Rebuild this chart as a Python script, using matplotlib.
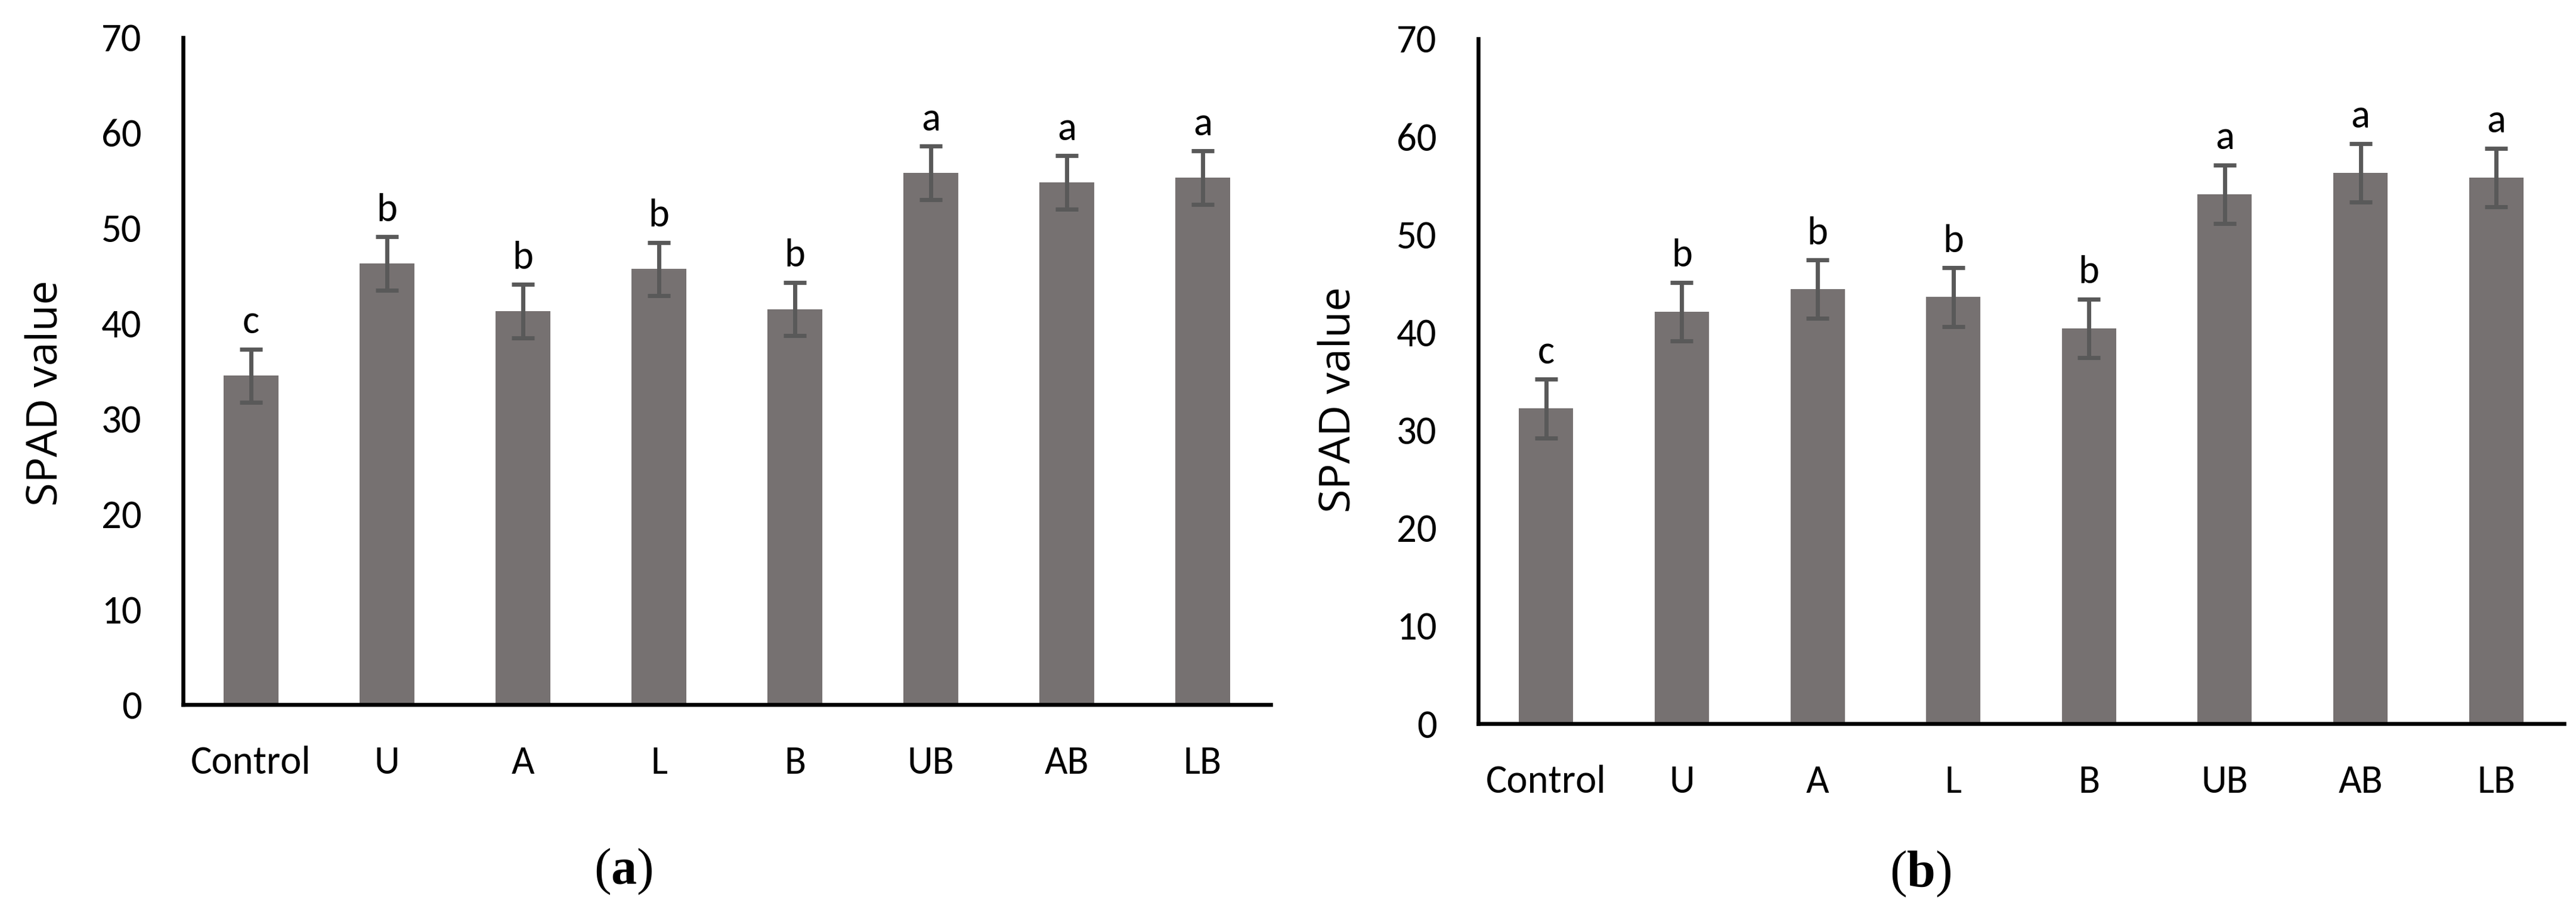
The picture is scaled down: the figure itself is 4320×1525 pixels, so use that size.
import matplotlib
matplotlib.use("Agg")
import matplotlib.pyplot as plt
import numpy as np

categories = ["Control", "U", "A", "L", "B", "UB", "AB", "LB"]
values_a = [34.5, 46.3, 41.3, 45.7, 41.5, 55.8, 54.8, 55.3]
errors_a = [2.8, 2.8, 2.8, 2.8, 2.8, 2.8, 2.8, 2.8]
letters_a = ["c", "b", "b", "b", "b", "a", "a", "a"]
values_b = [32.2, 42.1, 44.4, 43.6, 40.4, 54.1, 56.3, 55.8]
errors_b = [3.0, 3.0, 3.0, 3.0, 3.0, 3.0, 3.0, 3.0]
letters_b = ["c", "b", "b", "b", "b", "a", "a", "a"]
yticks = [0, 10, 20, 30, 40, 50, 60, 70]
panel_labels = ["a", "b"]

plt.rcParams['mathtext.fontset'] = 'custom'
plt.rcParams['mathtext.rm'] = 'Liberation Serif'
plt.rcParams['mathtext.bf'] = 'Liberation Serif:bold'

TICKFONT = ['Carlito', 'Lato', 'DejaVu Sans']
LABELFONT = ['Open Sans', 'DejaVu Sans']

W, H = 4320, 1525
fig = plt.figure(figsize=(W / 100, H / 100), dpi=100)

# axes rects in pixels: left, right, y0 (value 0), y70 (value 70)
rects = [(307, 2131, 1182, 63), (2479, 4300, 1214, 65)]
ylabel_pos = [(78, 660), (2246, 671)]
panel_pos = [(1045, 1462), (3221, 1466)]
datasets = [(values_a, errors_a, letters_a), (values_b, errors_b, letters_b)]

for k, ((l, r, y0, y70), (vals, errs, lets)) in enumerate(zip(rects, datasets)):
    ax = fig.add_axes([l / W, 1 - y0 / H, (r - l) / W, (y0 - y70) / H])
    x = np.arange(len(categories))
    ax.bar(x, vals, width=0.4, color='#767171', zorder=1)
    ax.errorbar(x, vals, yerr=errs, fmt='none', ecolor='#595959',
                elinewidth=5, capsize=13.7, capthick=5, zorder=2)
    for xi, v, e, t in zip(x, vals, errs, lets):
        ax.annotate(t, (xi, v + e), xytext=(0, 19), textcoords='offset points',
                    ha='center', va='baseline', fontsize=48, family=TICKFONT,
                    color='black')
    ax.set_xlim(-0.5, len(categories) - 0.5)
    ax.set_ylim(0, 70)
    ax.set_yticks(yticks)
    ax.set_xticks(x)
    ax.set_xticklabels(categories)
    for s in ['top', 'right']:
        ax.spines[s].set_visible(False)
    for s in ['left', 'bottom']:
        ax.spines[s].set_linewidth(4.7)
        ax.spines[s].set_color('black')
        ax.spines[s].set_zorder(3)
    ax.tick_params(axis='both', length=0, labelsize=48)
    ax.tick_params(axis='y', pad=50)
    ax.tick_params(axis='x', pad=50)
    for lab in ax.get_xticklabels() + ax.get_yticklabels():
        lab.set_family(TICKFONT)
    fig.text(ylabel_pos[k][0] / W, 1 - ylabel_pos[k][1] / H, "SPAD value",
             rotation=90, ha='center', va='center', fontsize=52, family=LABELFONT)
    fig.text(panel_pos[k][0] / W, 1 - panel_pos[k][1] / H,
             r"$\mathrm{(}\mathbf{%s}\mathrm{)}$" % panel_labels[k],
             ha='center', va='center', fontsize=62)

fig.savefig("out.png", dpi=100)
